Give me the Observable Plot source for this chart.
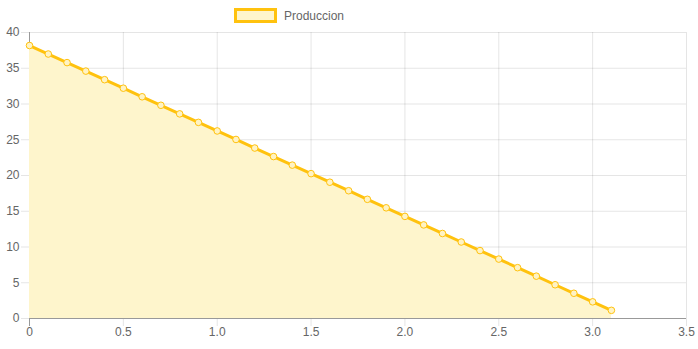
<!DOCTYPE html>
<html><head><meta charset="utf-8">
<script src="https://cdn.jsdelivr.net/npm/d3@7"></script>
<script src="https://cdn.jsdelivr.net/npm/@observablehq/plot@0.6"></script>
<style>
body{margin:0;background:#fff;font-family:"Liberation Sans",Arial,sans-serif;}
#wrap{position:relative;width:698px;height:349px;}
#legend{position:absolute;left:234px;top:8px;display:flex;align-items:center;font-size:12px;color:#666;}
#legend .box{width:37px;height:9px;border:3px solid #ffc20e;background:#fef5cc;margin-right:7px;}
</style></head>
<body><div id="wrap"><div id="legend"><div class="box"></div><span>Produccion</span></div><div id="chart"></div></div>
<script>
const xValues = [0,0.1,0.2,0.3,0.4,0.5,0.6,0.7,0.8,0.9,1.0,1.1,1.2,1.3,1.4,1.5,1.6,1.7,1.8,1.9,2.0,2.1,2.2,2.3,2.4,2.5,2.6,2.7,2.8,2.9,3.0,3.1];
const produccion = [38.18,36.99,35.79,34.60,33.40,32.21,31.01,29.82,28.62,27.43,26.23,25.04,23.84,22.65,21.45,20.26,19.06,17.87,16.67,15.48,14.28,13.09,11.89,10.70,9.50,8.31,7.11,5.92,4.72,3.53,2.33,1.14];
const xTicks = [0,0.5,1.0,1.5,2.0,2.5,3.0,3.5];
const yTicks = [0,5,10,15,20,25,30,35,40];
const data = xValues.map((x,i)=>({x, y: produccion[i]}));
const yellow = "#ffc20e";
const chart = Plot.plot({
  width:698, height:349,
  marginTop:32, marginBottom:31, marginLeft:29, marginRight:12,
  style:{fontFamily:"Liberation Sans, Arial, sans-serif", fontSize:"12px", color:"#666", background:"#fff"},
  x:{domain:[0,3.5]},
  y:{domain:[0,40]},
  marks:[
    Plot.ruleX(xTicks,{x:d=>d, stroke:"#000", strokeOpacity:0.1, insetBottom:-8}),
    Plot.ruleY(yTicks,{y:d=>d, stroke:"#000", strokeOpacity:0.1, insetLeft:-8}),
    Plot.ruleY([0],{stroke:"#999", strokeWidth:1}),
    Plot.ruleX([0],{stroke:"#999", strokeWidth:1, insetBottom:-8}),
    Plot.areaY(data,{x:"x", y:"y", fill:"#fef5cc"}),
    Plot.line(data,{x:"x", y:"y", stroke:yellow, strokeWidth:3}),
    Plot.dot(data,{x:"x", y:"y", r:3.3, fill:"#fff3c4", stroke:yellow, strokeWidth:1}),
    Plot.axisX(xTicks,{tickSize:0, tickPadding:9, label:null, tickFormat:d=>d===0?"0":d.toFixed(1), fill:"#666", fontSize:12}),
    Plot.axisY(yTicks,{tickSize:0, tickPadding:10, label:null, tickFormat:d=>String(d), fill:"#666", fontSize:12})
  ]
});
document.getElementById("chart").appendChild(chart);
</script></body></html>
